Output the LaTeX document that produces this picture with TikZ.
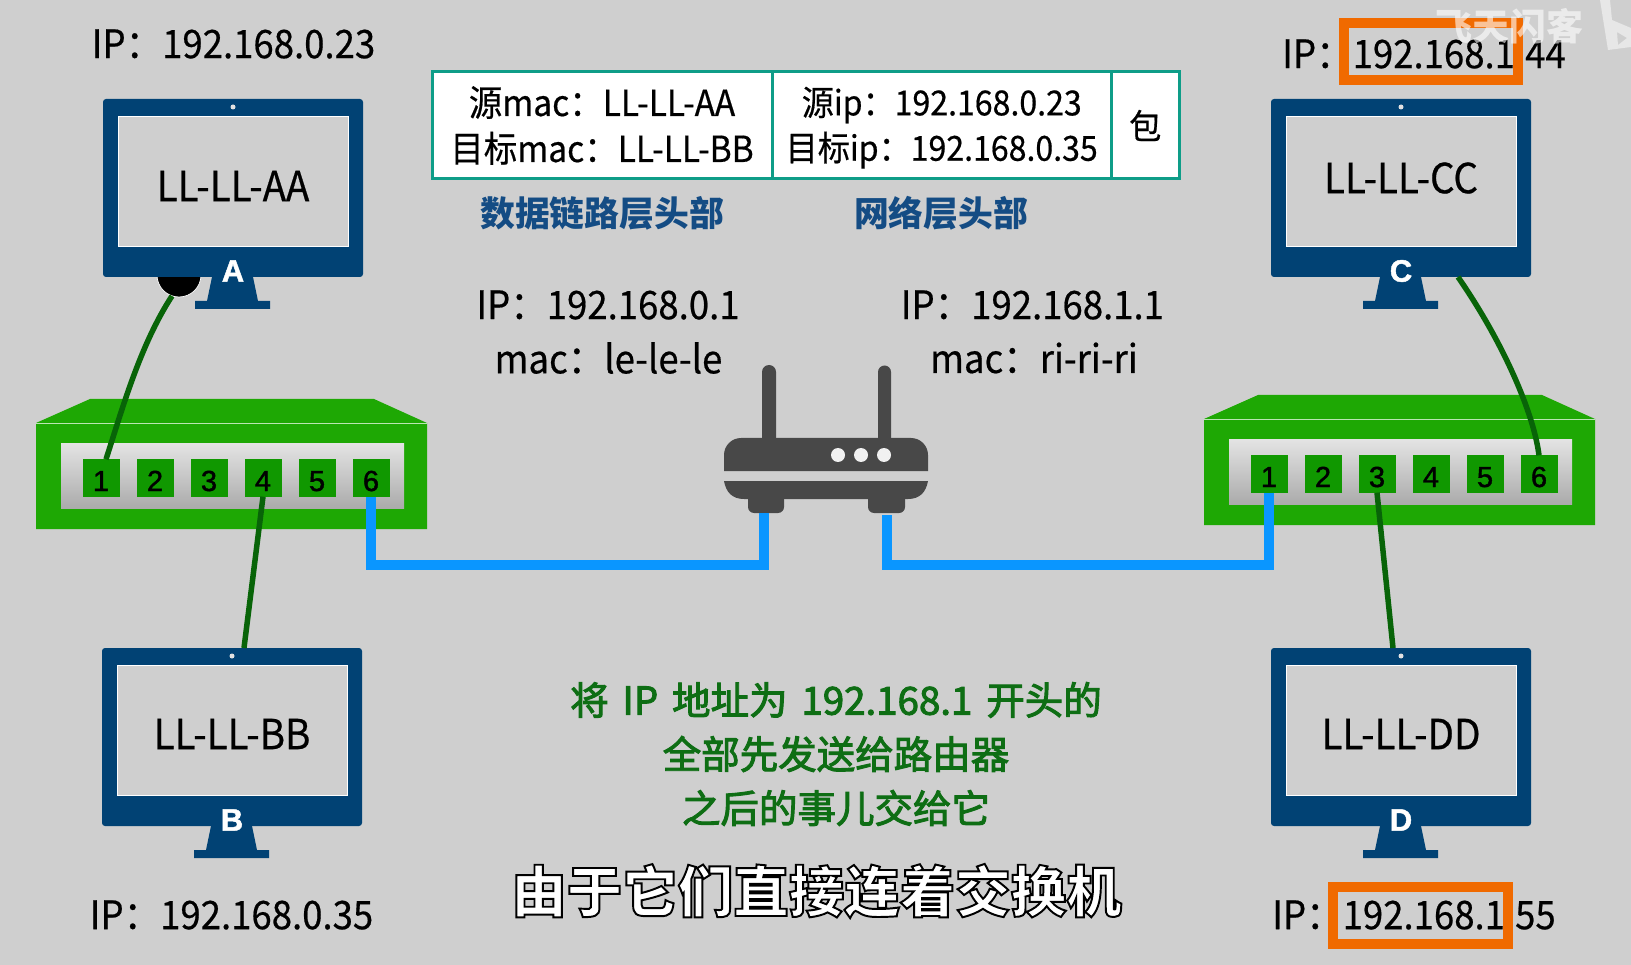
\documentclass[tikz,border=0pt]{standalone}
\usepackage{fontspec}
\usepackage{tikz}
\usepackage{xcolor}
\usetikzlibrary{positioning}
\setmainfont{Noto Sans CJK SC}
\newfontfamily\latin[FakeStretch=.93,FakeBold=.5]{Noto Sans CJK SC}
\newfontfamily\medium[FakeBold=2.5]{Noto Sans CJK SC}
\newfontfamily\numfont[FakeBold=1.5]{Liberation Sans}
\newfontfamily\outlined[BoldFeatures={FakeBold=3.5}]{Noto Sans CJK SC}
\definecolor{paper}{RGB}{207,207,207}
\definecolor{navy}{RGB}{1,66,116}
\definecolor{swgreen}{RGB}{30,168,4}
\definecolor{portgreen}{RGB}{16,152,0}
\definecolor{cablegreen}{RGB}{8,100,8}
\definecolor{wire}{RGB}{10,150,255}
\definecolor{routergray}{RGB}{72,72,72}
\definecolor{tealline}{RGB}{14,157,136}
\definecolor{heading}{RGB}{20,76,132}
\definecolor{note}{RGB}{14,110,20}
\definecolor{frameorange}{RGB}{240,106,0}
\newcommand{\fs}[1]{\fontsize{#1}{#1}\selectfont}
\newcommand{\notefont}{\medium\fs{38.5}\spaceskip .36em\relax}
\tikzset{
  x=1pt, y=-1pt,
  iplabel/.style={inner sep=0pt, text=black, font=\latin\fs{39.3}},
  monbody/.style={fill=navy, minimum width=260pt, minimum height=178pt, rounded corners=3pt, inner sep=0pt},
  monscreen/.style={fill=paper, draw=white, line width=.5pt, minimum width=230pt, minimum height=130pt, inner sep=0pt},
  monlabel/.style={inner sep=0pt, text=black, font=\latin\fs{41.5}},
  montag/.style={inner sep=0pt, text=white, font=\numfont\bfseries\fs{31}},
  swport/.style={fill=portgreen, minimum size=37pt, inner sep=0pt, text height=26pt, text depth=0pt, font=\numfont\fs{29}},
  tcell/.style={fill=white, draw=tealline, line width=3pt, minimum height=107pt, inner sep=0pt, outer sep=0pt, align=center, font=\latin\fs{34.5}},
  heading/.style={inner sep=0pt, text=heading, font=\bfseries\fs{34.8}},
  notetext/.style={inner sep=0pt, text=note, font=\notefont},
  lan/.style={draw=cablegreen, line width=5.5pt},
  uplink/.style={draw=wire, line width=10pt, miter limit=10},
  orangebox/.style={draw=frameorange, line width=10pt, fill=none, inner sep=0pt}
}
% monitor: name, centre x, top y, text, text y
\newcommand{\monitor}[5]{%
  \node[monbody] (mon#1) at (#2,#3+89) {};
  \fill[navy] (#2-21,#3+178) -- (#2+20,#3+178) -- (#2+25,#3+202) -- (#2+37,#3+202)
    -- (#2+37,#3+210) -- (#2-38,#3+210) -- (#2-38,#3+202) -- (#2-26,#3+202) -- cycle;
  \fill[paper!60!white] (#2,#3+8) circle (2.5pt);
  \node[monscreen] (scr#1) at (#2,#3+82) {};
  \node[monlabel] (lbl#1) at (#2,#5) {#4};
  \node[montag] (tag#1) at (#2,#3+172) {#1};
}
% switch: name, left x, top y of body
\newcommand{\switchbox}[3]{%
  \fill[swgreen] (#2,#3+24) -- (#2+54,#3) -- (#2+338,#3) -- (#2+391,#3+24) -- (#2+391,#3+130) -- (#2,#3+130) -- cycle;
  \draw[white!70!swgreen, line width=.5pt] (#2,#3+24) -- (#2+391,#3+24);
  \shade[top color=black!11, bottom color=black!33] (#2+25,#3+45) rectangle (#2+368,#3+109);
  \foreach \n [count=\i from 0] in {1,...,6} {
    \node[swport] (#1\n) at (#2+65+54*\i,#3+79) {\n};
  }
}
\begin{document}
\begin{tikzpicture}
\useasboundingbox (0,0) rectangle (1631,965);
\fill[paper] (0,0) rectangle (1631,965);

\node[circle, fill=black, draw=white, line width=.7pt, minimum size=44pt, inner sep=0pt] (ball) at (179,275) {};
\monitor{A}{233}{99}{LL-LL-AA}{186}
\monitor{B}{232}{648}{LL-LL-BB}{734}
\monitor{C}{1401}{99}{LL-LL-CC}{178}
\monitor{D}{1401}{648}{LL-LL-DD}{734}

\switchbox{swA}{36}{399}
\switchbox{swC}{1204}{395}

% router
\fill[routergray] (762,440) -- (762,372) arc (180:0:7pt) -- (776,440) -- cycle;
\fill[routergray] (878,440) -- (878,372) arc (180:0:6.5pt) -- (891,440) -- cycle;
\fill[routergray] (724,471) -- (724,455) arc (180:90:17pt) -- (911,438) arc (90:0:17pt) -- (928,471) -- cycle;
\fill[routergray] (724,481) -- (928,481) .. controls (926,492) and (920,499) .. (908,499)
  -- (744,499) .. controls (732,499) and (726,492) .. (724,481) -- cycle;
\fill[routergray, rounded corners=6pt] (748,490) rectangle (784,513);
\fill[routergray, rounded corners=6pt] (868,490) rectangle (905,513);
\coordinate (footL) at (764,513);
\coordinate (footR) at (887,515);
\foreach \x in {838,861,884} \fill[paper!30!white] (\x,455) circle (7pt);

% cables
\coordinate (busL) at (764,564.5);
\coordinate (busR) at (887,564.5);
\draw[uplink] (swA6.south) |- (busL) -- (footL);
\draw[uplink] (swC1.south) |- (busR) -- (footR);
\coordinate (capA) at (172,296);
\coordinate (capC) at (1458,277);
\coordinate (capD) at (1393,648);
\coordinate (capB) at (244,648);
\draw[lan] ([xshift=5pt]swA1.north) .. controls (122,410) and (140,345) .. (capA);
\draw[lan] (swC6.north) .. controls (1534,415) and (1505,345) .. (capC);
\draw[lan] (swA4.south) -- (capB);
\draw[lan] (swC3.south) -- (capD);

% address labels
\node[iplabel] (ipA) at (233.5,44) {IP：192.168.0.23};
\node[iplabel] (ipB) at (231.5,915) {IP：192.168.0.35};
\node[iplabel] (ipC) at (1424,54) {IP：192.168.1.44};
\node[iplabel] (ipD) at (1414,915) {IP：192.168.1.55};
\node[orangebox, minimum width=174pt, minimum height=57pt] (boxC) at (1431,52) {};
\node[orangebox, minimum width=175pt, minimum height=57pt] (boxD) at (1420.5,915.5) {};
\node[iplabel] (ripL) at (608,305) {IP：192.168.0.1};
\node[iplabel] (rmacL) at (608.5,358) {mac：le-le-le};
\node[iplabel] (ripR) at (1032.4,305) {IP：192.168.1.1};
\node[iplabel] (rmacR) at (1034,358) {mac：ri-ri-ri};

% packet table
\node[tcell, minimum width=340pt, font=\latin\fs{36}] (cellMac) at (602,125.5) {源mac：LL-LL-AA\\[10pt]目标mac：LL-LL-BB};
\node[tcell, minimum width=339.5pt, right=0pt of cellMac] (cellIp) {\rule{0pt}{33pt}源ip：192.168.0.23\\[7.5pt]目标ip：192.168.0.35};
\node[tcell, minimum width=67.5pt, right=0pt of cellIp] (cellPkg) {包};
\node[heading] (headMac) at (602,213) {数据链路层头部};
\node[heading] (headIp) at (941,213) {网络层头部};

% note
\node[notetext] (noteA) at (836,700) {将 IP 地址为 192.168.1 开头的};
\node[notetext] (noteB) at (836,754) {全部先发送给路由器};
\node[notetext] (noteC) at (836,808) {之后的事儿交给它};

% subtitle
\node[inner sep=0pt, font=\outlined\bfseries\fs{55.5}] (subtitle) at (816.5,891) {\special{pdf:bcolor [1] [0]}由于它们直接连着交换机\special{pdf:ecolor}};

% watermark
\node[inner sep=0pt, text=white, opacity=.6, font=\bfseries\fs{37}] (mark) at (1509,26) {飞天闪客};
\fill[white, opacity=.5, even odd rule] (1600,0) -- (1610,0) -- (1612,20) -- (1631,28) -- (1631,47) -- (1608,50) -- cycle
  (1617,32) -- (1627,38) -- (1618,45) -- cycle;
\end{tikzpicture}
\end{document}
